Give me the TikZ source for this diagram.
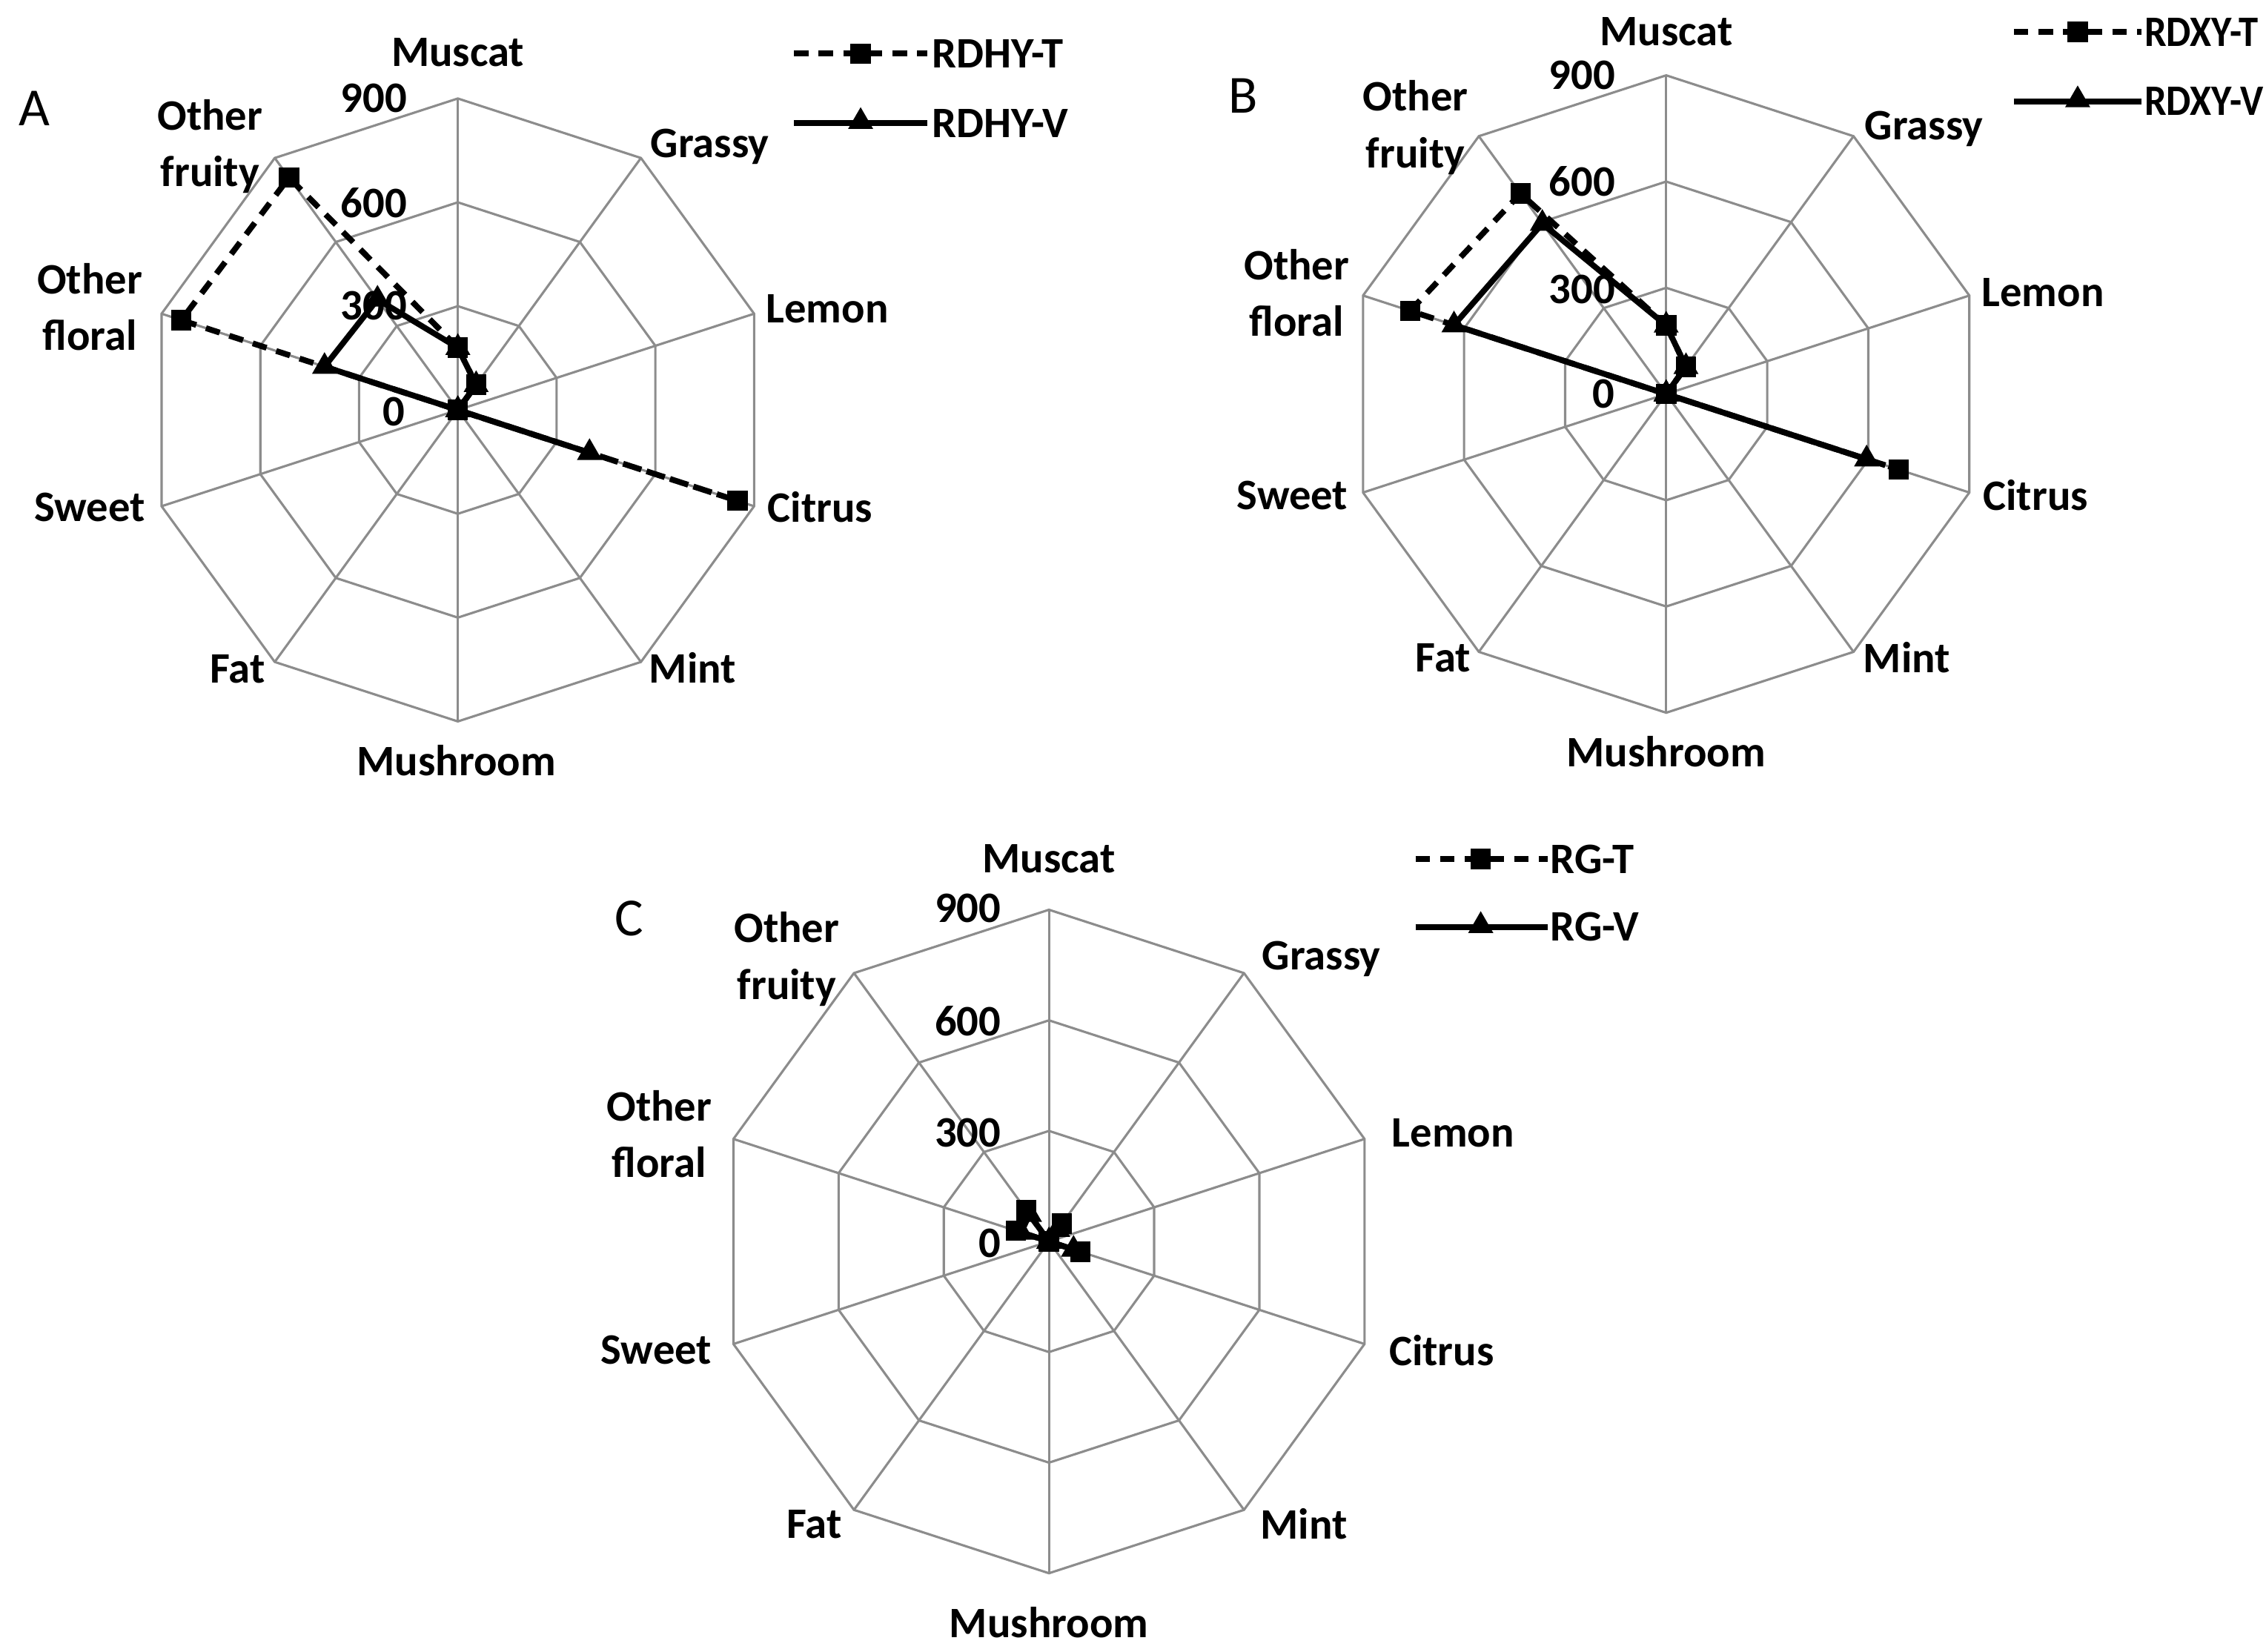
\documentclass[tikz,border=0pt]{standalone}
\usepackage{fontspec}
\setmainfont{Carlito}
\usetikzlibrary{shapes.geometric}
\definecolor{gridgray}{HTML}{8C8C8C}
\newcommand\radargrid[3]{%
  \foreach \k in {1,2,3}{%
    \draw[grid] ({#1},{#2-#3*\k/3})
      \foreach \i in {1,...,9}{ -- ({#1+#3*\k/3*cos(90-36*\i)},{#2-#3*\k/3*sin(90-36*\i)}) } -- cycle;}
  \foreach \i in {0,...,9}{\draw[grid] (#1,#2) -- ({#1+#3*cos(90-36*\i)},{#2-#3*sin(90-36*\i)});}}
\newcommand\radarseries[6]{%
  \foreach \v [count=\i from 0] in {#6}{%
    \coordinate (#5\i) at ({#1+#3*(\v/900)*cos(90-36*\i)},{#2-#3*(\v/900)*sin(90-36*\i)});}
  \draw[#4] (#50) -- (#51) -- (#52) -- (#53) -- (#54) -- (#55) -- (#56) -- (#57) -- (#58) -- (#59) -- cycle;}
\newcommand\radarmarks[2]{\foreach \i in {0,...,9}{\node[#2] at (#1\i) {};}}
\begin{document}
\begin{tikzpicture}[x=1pt,y=-1pt,
  grid/.style={draw=gridgray,line width=1.6pt},
  lab/.style={font=\bfseries\fontsize{30}{39}\selectfont,inner sep=0pt,align=center},
  let/.style={font=\fontsize{37}{40}\selectfont,inner sep=0pt},
  ser/.style={line width=4pt,line join=round},
  tser/.style={ser,dash pattern=on 10pt off 7pt},
  sq/.style={rectangle,fill=black,minimum size=14pt,inner sep=0pt},
  tri/.style={regular polygon,regular polygon sides=3,fill=black,minimum size=20pt,inner sep=0pt}]
\useasboundingbox (0,0) rectangle (1564,1140);
% ---------- A
\radargrid{316}{283}{215}
\radarseries{316}{283}{215}{tser}{at}{180,90,0,850,0,0,0,0,840,830}
\radarseries{316}{283}{215}{ser}{av}{180,90,0,400,0,0,0,0,405,395}
\radarmarks{at}{sq}\radarmarks{av}{tri}
\node[lab] (aMus) at (316,36) {Muscat};
\node[lab] (aGra) at (490,101) {Grassy};
\node[lab] (aLem) at (571,213) {Lemon};
\node[lab] (aCit) at (566,350) {Citrus};
\node[lab] (aMin) at (478,461) {Mint};
\node[lab] (aMsh) at (315,525) {Mushroom};
\node[lab] (aFat) at (164,462) {Fat};
\node[lab] (aSwe) at (62,350) {Sweet};
\node[lab] (aOfl) at (62,212) {Other\\floral};
\node[lab] (aOfr) at (145,101) {Other\\fruity};
\node[lab] (a900) at (258,68) {900};
\node[lab] (a600) at (258,140) {600};
\node[lab] (a300) at (258,211) {300};
\node[lab] (a0) at (272,284) {0};
\node[let] (aL) at (24,75) {A};
\coordinate (la1) at (548,37); \coordinate (la2) at (640,37);
\coordinate (lb1) at (548,85); \coordinate (lb2) at (640,85);
\draw[tser] (la1) -- (la2); \node[sq] at (594,37) {};
\draw[ser] (lb1) -- (lb2); \node[tri] at (594,84) {};
\node[lab,anchor=west] (aLT) at (643,37) {RDHY-T};
\node[lab,anchor=west] (aLV) at (643,85) {RDHY-V};
% ---------- B
\radargrid{1150}{272}{220}
\radarseries{1150}{272}{220}{tser}{bt}{194,95,0,690,0,0,0,0,760,700}
\radarseries{1150}{272}{220}{ser}{bv}{194,95,0,595,0,0,0,0,630,595}
\radarmarks{bt}{sq}\radarmarks{bv}{tri}
\node[lab] (bMus) at (1150,22) {Muscat};
\node[lab] (bGra) at (1328,89) {Grassy};
\node[lab] (bLem) at (1410,202) {Lemon};
\node[lab] (bCit) at (1405,342) {Citrus};
\node[lab] (bMin) at (1316,454) {Mint};
\node[lab] (bMsh) at (1150,519) {Mushroom};
\node[lab] (bFat) at (996,454) {Fat};
\node[lab] (bSwe) at (892,342) {Sweet};
\node[lab] (bOfl) at (895,202) {Other\\floral};
\node[lab] (bOfr) at (977,88) {Other\\fruity};
\node[lab] (b900) at (1092,52) {900};
\node[lab] (b600) at (1092,125) {600};
\node[lab] (b300) at (1092,200) {300};
\node[lab] (b0) at (1107,272) {0};
\node[let] (bL) at (858,66) {B};
\coordinate (lc1) at (1390,22); \coordinate (lc2) at (1478,22);
\coordinate (ld1) at (1390,70); \coordinate (ld2) at (1478,70);
\draw[tser] (lc1) -- (lc2); \node[sq] at (1434,22) {};
\draw[ser] (ld1) -- (ld2); \node[tri] at (1434,69) {};
\node[lab,anchor=west,xscale=0.9] (bLT) at (1480,22) {RDXY-T};
\node[lab,anchor=west,xscale=0.9] (bLV) at (1480,70) {RDXY-V};
% ---------- C
\radargrid{724}{857}{229}
\radarseries{724}{857}{229}{tser}{ct}{0,60,0,90,0,0,0,0,95,105}
\radarseries{724}{857}{229}{ser}{cv}{0,40,0,70,0,0,0,0,80,90}
\radarmarks{ct}{sq}\radarmarks{cv}{tri}
\node[lab] (cMus) at (724,593) {Muscat};
\node[lab] (cGra) at (912,662) {Grassy};
\node[lab] (cLem) at (1003,782) {Lemon};
\node[lab] (cCit) at (995,932) {Citrus};
\node[lab] (cMin) at (900,1052) {Mint};
\node[lab] (cMsh) at (724,1120) {Mushroom};
\node[lab] (cFat) at (562,1052) {Fat};
\node[lab] (cSwe) at (453,932) {Sweet};
\node[lab] (cOfl) at (455,783) {Other\\floral};
\node[lab] (cOfr) at (543,662) {Other\\fruity};
\node[lab] (c900) at (668,627) {900};
\node[lab] (c600) at (668,705) {600};
\node[lab] (c300) at (668,782) {300};
\node[lab] (c0) at (683,858) {0};
\node[let] (cL) at (434,634) {C};
\coordinate (le1) at (977,593); \coordinate (le2) at (1068,593);
\coordinate (lf1) at (977,640); \coordinate (lf2) at (1068,640);
\draw[tser] (le1) -- (le2); \node[sq] at (1022,593) {};
\draw[ser] (lf1) -- (lf2); \node[tri] at (1022,639) {};
\node[lab,anchor=west] (cLT) at (1070,593) {RG-T};
\node[lab,anchor=west] (cLV) at (1070,640) {RG-V};
\end{tikzpicture}
\end{document}
